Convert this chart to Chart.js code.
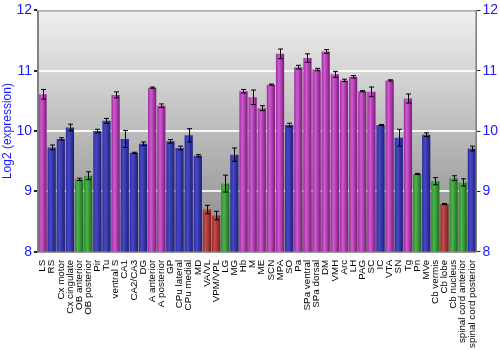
<!DOCTYPE html>
<html lang="en">
<head>
  <meta charset="UTF-8" />
  <title>Expression</title>
  <style>
    body { margin: 0; padding: 0; background: #fff; }
    #wrap { width: 500px; height: 350px; position: relative; }
  </style>
</head>
<body>
  <div id="wrap"><canvas id="chart"></canvas></div>

  <script src="https://cdn.jsdelivr.net/npm/chart.js"></script>
  <script>
    const regions = ["LS", "RS", "Cx motor", "Cx cingulate", "OB anterior", "OB posterior", "Pir", "Tu",
      "ventral S", "CA1", "CA2/CA3", "DG", "A anterior", "A posterior", "GP", "CPu lateral", "CPu medial",
      "MD", "VA/VL", "VPM/VPL", "LG", "MG", "Hb", "M", "ME", "SCN", "MPA", "SO", "Pa", "SPa ventral",
      "SPa dorsal", "DM", "VMH", "Arc", "LH", "PAG", "SC", "IC", "VTA", "SN", "Tg", "Pn", "MVe",
      "Cb vermis", "Cb lobe", "Cb nucleus", "spinal cord anterior", "spinal cord posterior"];

    const expression = [10.61, 9.73, 9.87, 10.06, 9.20, 9.26, 10.00, 10.17,
      10.60, 9.87, 9.64, 9.79, 10.72, 10.42, 9.83, 9.72, 9.93,
      9.59, 8.70, 8.60, 9.13, 9.61, 10.66, 10.56, 10.38, 10.77, 11.28, 10.10, 11.06, 11.21,
      11.02, 11.32, 10.94, 10.84, 10.90, 10.66, 10.65, 10.10, 10.84, 9.89, 10.54, 9.29, 9.94,
      9.17, 8.79, 9.22, 9.15, 9.71];

    const errors = [0.08, 0.04, 0.02, 0.055, 0.02, 0.066, 0.03, 0.04,
      0.05, 0.14, 0.01, 0.03, 0.01, 0.03, 0.03, 0.03, 0.11,
      0.02, 0.07, 0.07, 0.14, 0.11, 0.03, 0.12, 0.04, 0.01, 0.08, 0.03, 0.03, 0.07,
      0.02, 0.03, 0.05, 0.02, 0.02, 0.01, 0.08, 0.01, 0.01, 0.14, 0.075, 0.01, 0.03,
      0.06, 0.01, 0.04, 0.06, 0.04];

    // m = magenta, b = blue, g = green, r = red
    const groups = ["m", "b", "b", "b", "g", "g", "b", "b",
      "m", "b", "b", "b", "m", "m", "b", "b", "b",
      "b", "r", "r", "g", "b", "m", "m", "m", "m", "m", "b", "m", "m",
      "m", "m", "m", "m", "m", "m", "m", "b", "m", "b", "m", "g", "b",
      "g", "r", "g", "g", "b"];

    const yTicks = [8, 9, 10, 11, 12];

    const shades = {
      m: ["#9a2c9a", "#d25ad2", "#7a1a7a"],
      b: ["#2c2c9c", "#4848c8", "#1e1e76"],
      g: ["#2c8c2c", "#4cb44c", "#1e6a1e"],
      r: ["#9c2e2e", "#c44c4c", "#7a1e1e"]
    };

    function barFill(ctx) {
      const key = groups[ctx.dataIndex] || "b";
      const s = shades[key];
      const xs = ctx.chart.scales.x;
      if (!xs || !isFinite(xs.getPixelForValue(ctx.dataIndex))) return s[1];
      const cx = xs.getPixelForValue(ctx.dataIndex);
      const w = xs.width / regions.length * 0.9;
      const g = ctx.chart.ctx.createLinearGradient(cx - w / 2, 0, cx + w / 2, 0);
      g.addColorStop(0, s[0]);
      g.addColorStop(0.35, s[1]);
      g.addColorStop(1, s[2]);
      return g;
    }

    const plotBg = {
      id: "plotBg",
      beforeDraw(chart) {
        const a = chart.chartArea, c = chart.ctx;
        const g = c.createLinearGradient(0, a.top, 0, a.bottom);
        g.addColorStop(0, "#f0f0f0");
        g.addColorStop(1, "#878787");
        c.save();
        c.fillStyle = g;
        c.fillRect(a.left, a.top, a.right - a.left, a.bottom - a.top);
        c.restore();
      },
      afterDraw(chart) {
        const a = chart.chartArea, c = chart.ctx;
        c.save();
        c.strokeStyle = "#808080";
        c.lineWidth = 1;
        c.strokeRect(a.left + 0.5, a.top + 0.5, a.right - a.left - 1, a.bottom - a.top);
        c.restore();
      }
    };

    const errorBars = {
      id: "errorBars",
      afterDatasetsDraw(chart) {
        const meta = chart.getDatasetMeta(0);
        const y = chart.scales.y;
        const c = chart.ctx;
        c.save();
        c.strokeStyle = "#000";
        c.lineWidth = 1;
        meta.data.forEach((bar, i) => {
          const x = Math.round(bar.x) + 0.5;
          const hi = y.getPixelForValue(expression[i] + errors[i]);
          const lo = y.getPixelForValue(expression[i] - errors[i]);
          c.beginPath();
          c.moveTo(x, hi); c.lineTo(x, lo);
          c.moveTo(x - 2.5, hi); c.lineTo(x + 2.5, hi);
          c.moveTo(x - 2.5, lo); c.lineTo(x + 2.5, lo);
          c.stroke();
        });
        c.restore();
      }
    };

    const tickBlue = "#1a1aff";

    new Chart(document.getElementById("chart"), {
      type: "bar",
      data: {
        labels: regions,
        datasets: [{
          data: expression,
          backgroundColor: barFill,
          borderWidth: 0,
          categoryPercentage: 1.0,
          barPercentage: 0.9
        }]
      },
      options: {
        responsive: true,
        maintainAspectRatio: false,
        animation: false,
        layout: { padding: { top: 4, right: 0, left: 0, bottom: 2 } },
        plugins: { legend: { display: false }, tooltip: { enabled: false } },
        scales: {
          x: {
            grid: { display: false },
            border: { display: false },
            ticks: {
              autoSkip: false,
              minRotation: 90,
              maxRotation: 90,
              padding: 0,
              color: "#000",
              font: { family: "Liberation Sans", size: 9.8 }
            }
          },
          y: {
            min: 8, max: 12,
            afterBuildTicks: s => { s.ticks = yTicks.map(v => ({ value: v })); },
            border: { display: true, color: "#808080" },
            grid: {
              color: c => (c.tick && c.tick.value > 8 && c.tick.value < 12) ? "rgba(255,255,255,0.85)" : "rgba(0,0,0,0)",
              lineWidth: 2,
              tickColor: "#222",
              tickLength: 4
            },
            ticks: { color: tickBlue, padding: 2, font: { family: "Liberation Sans", size: 14 } },
            title: {
              display: true,
              text: "Log2 (expression)",
              color: tickBlue,
              padding: 0,
              font: { family: "Liberation Sans", size: 12 }
            }
          },
          y2: {
            position: "right",
            min: 8, max: 12,
            afterBuildTicks: s => { s.ticks = yTicks.map(v => ({ value: v })); },
            border: { display: true, color: "#808080" },
            grid: { drawOnChartArea: false, tickColor: "#222", tickLength: 4 },
            ticks: { color: tickBlue, padding: 2, font: { family: "Liberation Sans", size: 14 } }
          }
        }
      },
      plugins: [plotBg, errorBars]
    });
  </script>
</body>
</html>
